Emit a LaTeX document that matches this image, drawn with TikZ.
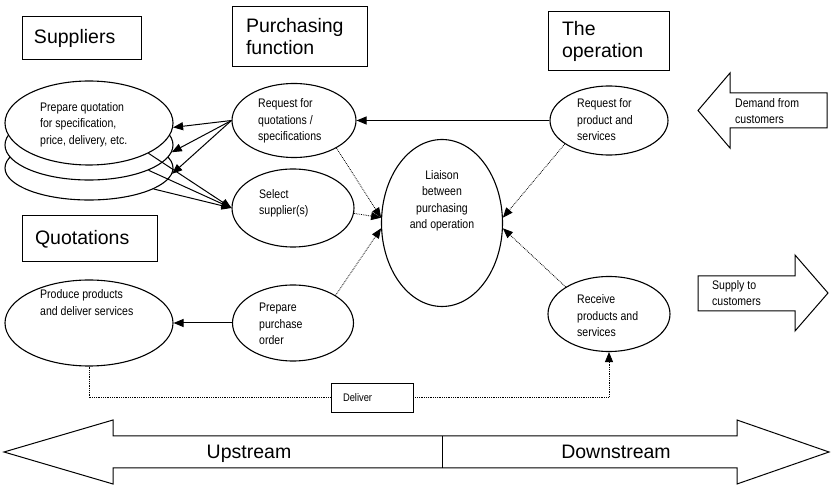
\documentclass[tikz,border=0pt]{standalone}
\usepackage{fontspec}
\setmainfont{Liberation Sans}
\newfontfamily\narrowsans[FakeStretch=0.85]{Liberation Sans}
\usetikzlibrary{arrows.meta,shapes.geometric}

\tikzset{
  titlebox/.style={draw, line width=1pt, align=left, font=\fontsize{19.5}{22}\selectfont, inner ysep=0pt},
  bubble/.style={draw, ellipse, line width=1.1pt, inner sep=0pt, fill=white},
  smalltext/.style={align=left, anchor=west, inner sep=0pt, font=\narrowsans\fontsize{12.4}{16.5}\selectfont},
  bigtext/.style={inner sep=0pt, anchor=base, font=\fontsize{19.5}{22}\selectfont},
  flow/.style={line width=1pt, -{Triangle[length=10pt,width=8pt]}},
  link/.style={densely dotted, line width=0.8pt, -{Triangle[length=10pt,width=8pt]}},
  bigarrow/.style={draw, line width=1pt, fill=white},
}

\begin{document}
\begin{tikzpicture}[x=1pt,y=-1pt]
\fill[white] (0,0) rectangle (831,486);
\useasboundingbox (0,0) rectangle (831,486);

% headings
\node[titlebox, inner xsep=12pt, text width=95pt, minimum height=43pt] (hsup) at (81.5,38.5) {Suppliers};
\node[titlebox, inner xsep=14pt, text width=107pt, minimum height=60pt] (hpur) at (299.5,37) {Purchasing\\function};
\node[titlebox, inner xsep=14pt, text width=93pt, minimum height=59pt] (hop) at (608.5,41.5) {The\\operation};
\node[titlebox, inner xsep=13pt, text width=109pt, minimum height=46pt] (hquo) at (89.5,239) {Quotations};

% stack of supplier quotations
\node[bubble, minimum width=168pt, minimum height=64pt] (q3) at (89,168) {};
\node[bubble, minimum width=168pt, minimum height=70pt] (q2) at (89,145) {};
\node[bubble, minimum width=168pt, minimum height=84pt] (q1) at (89,123) {};
\node[smalltext] (q1t) at (40,124.5) {Prepare quotation\\for specification,\\price, delivery, etc.};

% purchasing function activities
\node[bubble, minimum width=124pt, minimum height=74pt] (rq) at (294,120.5) {};
\node[smalltext] (rqt) at (258,121) {Request for\\quotations /\\specifications};
\node[bubble, minimum width=122pt, minimum height=78pt] (sel) at (293,208) {};
\node[smalltext] (selt) at (259,203.5) {Select\\supplier(s)};
\node[bubble, minimum width=121pt, minimum height=76pt] (ppo) at (293,323) {};
\node[smalltext] (ppot) at (259,324) {Prepare\\purchase\\order};

% liaison
\node[bubble, minimum width=121pt, minimum height=167pt] (li) at (442,223) {};
\node[smalltext, anchor=center, align=center] (lit) at (442,201) {Liaison\\between\\purchasing\\and operation};

% operation activities
\node[bubble, minimum width=118pt, minimum height=69pt] (rp) at (609,120.5) {};
\node[smalltext] (rpt) at (577,120) {Request for\\product and\\services};
\node[bubble, minimum width=122pt, minimum height=75pt] (rcv) at (609,314) {};
\node[smalltext] (rcvt) at (577,316) {Receive\\products and\\services};

% supplier delivery
\node[bubble, minimum width=168pt, minimum height=86pt] (prod) at (89,323) {};
\node[smalltext] (prodt) at (40,302.5) {Produce products\\and deliver services};
\node[draw, line width=0.9pt, minimum width=82pt, minimum height=29pt, text width=58pt, inner xsep=12pt, align=left, font=\narrowsans\fontsize{11}{14}\selectfont] (dl) at (372,397.5) {Deliver};

% solid flows
\draw[flow] (rp.west) -- (rq.east);
\draw[flow] (rq.west) -- (q1.-3);
\draw[flow] (rq.west) -- (q2.-5);
\draw[flow] (rq.west) -- (q3.-4);
\draw[flow] (q1.-27) -- (sel.west);
\draw[flow] (q2.-23) -- (sel.west);
\draw[flow] (q3.-18) -- (sel.west);
\draw[flow] (ppo.west) -- (prod.east);

% dotted links into the liaison
\draw[link] (rq.-33) -- (li.175);
\draw[link] (sel.-5) -- (li.175);
\draw[link] (ppo.33) -- (li.185);
\draw[link] (rp.208) -- (li.5);
\draw[link] (rcv.148) -- (li.-5);
\draw[densely dotted, line width=0.8pt] (prod.south) |- (dl.west);
\draw[link] (dl.east) -| (rcv.south);

% customer arrows
\draw[bigarrow] (827,93) -- (730,93) -- (730,73) -- (698,110.5) -- (730,148) -- (730,128) -- (827,128) -- cycle;
\node[smalltext] (dem) at (735,111) {Demand from\\customers};
\draw[bigarrow] (698,276) -- (795,276) -- (795,255) -- (828,293) -- (795,331) -- (795,311) -- (698,311) -- cycle;
\node[smalltext] (sup) at (712,293) {Supply to\\customers};

% upstream / downstream
\draw[bigarrow] (4,452) -- (113,420) -- (113,436) -- (737,436) -- (737,420) -- (829,452) -- (737,484) -- (737,468) -- (113,468) -- (113,484) -- cycle;
\draw[line width=1pt] (442,436) -- (442,468);
\node[bigtext] (up) at (249,459) {Upstream};
\node[bigtext] (down) at (616,459) {Downstream};
\end{tikzpicture}
\end{document}
